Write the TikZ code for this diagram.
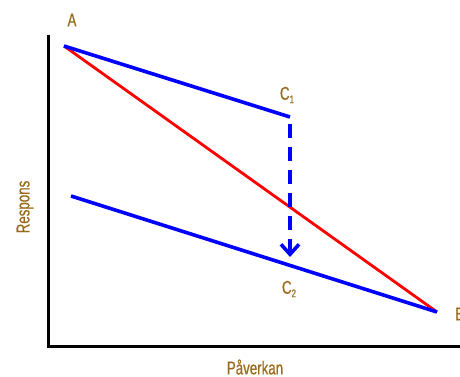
\documentclass[tikz,border=0pt]{standalone}
\usepackage{fontspec}
\setmainfont[FakeStretch=0.72,FakeBold=0.6]{Liberation Sans}
\usetikzlibrary{arrows.meta}
\definecolor{lbl}{HTML}{9A6A1C}
\newcommand{\lsub}[1]{\raisebox{-0.35ex}{\fontsize{11}{12}\selectfont #1}}
\begin{document}
\begin{tikzpicture}[x=1pt,y=-1pt,
  lab/.style={text=lbl,font=\fontsize{18.5}{20}\selectfont,inner sep=0pt},
  axisline/.style={line width=3pt,black},
  blueline/.style={line width=3.6pt,blue},
  redline/.style={line width=2.8pt,red}]
\useasboundingbox (0,0) rectangle (460,377);
\coordinate (top) at (48,35);
\coordinate (orig) at (48,346);
\coordinate (right) at (462,346);
\coordinate (A) at (64,46);
\coordinate (C1) at (290,117);
\coordinate (B) at (437,312);
\coordinate (D) at (71,196);
\coordinate (C1b) at (290,124);
\coordinate (C2a) at (290,257);
\draw[axisline] (top) -- (orig.center) -- (right);
\draw[redline] (A) -- (B);
\draw[blueline] (A) -- (C1);
\draw[blueline] (D) -- (B);
\draw[blueline,dash pattern=on 14pt off 9pt,-{Straight Barb[length=10pt,width=18pt,line width=3.6pt]}] (C1b) -- (C2a);
\node[lab] (lA) at (72,20) {A};
\node[lab] (lC1) at (287,95) {C\lsub{1}};
\node[lab] (lC2) at (289,289) {C\lsub{2}};
\node[lab,anchor=west] (lB) at (455,314) {B};
\node[lab] (lP) at (255,367) {Påverkan};
\node[lab,rotate=90] (lR) at (25,207) {Respons};
\end{tikzpicture}
\end{document}
